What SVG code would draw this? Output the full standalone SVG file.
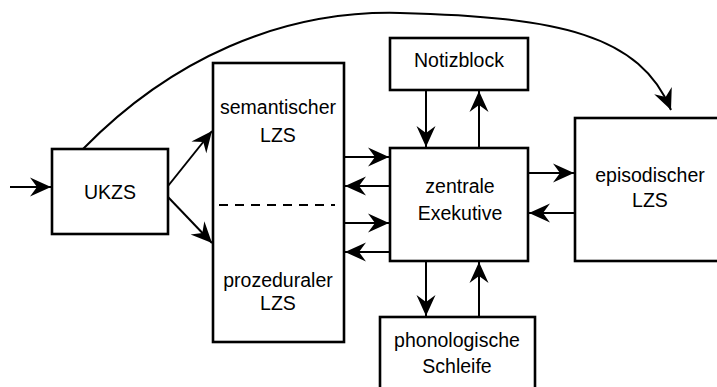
<svg xmlns="http://www.w3.org/2000/svg" width="717" height="387" viewBox="0 0 717 387">
  <style>
    .box { fill: #fff; stroke: #000; stroke-width: 2.6; }
    .line { fill: none; stroke: #000; stroke-width: 2; }
    .dash { fill: none; stroke: #000; stroke-width: 2; stroke-dasharray: 9 7; }
    text { font-family: "Liberation Sans", "DejaVu Sans", sans-serif; font-size: 19.5px; fill: #000; text-anchor: middle; }
  </style>
  <defs>
    <marker id="arrow" markerUnits="userSpaceOnUse" markerWidth="24" markerHeight="22" viewBox="-22 -11 24 22" refX="0" refY="0" orient="auto">
      <path d="M0,0 L-21,-9.5 L-14,0 L-21,9.5 Z" fill="#000"/>
    </marker>
  </defs>

  <rect width="717" height="387" fill="#fff"/>

  <g id="ukzs">
    <rect class="box" x="52" y="149" width="116" height="85"/>
    <text x="110" y="199">UKZS</text>
  </g>

  <g id="lzs">
    <rect class="box" x="213" y="63" width="131" height="279"/>
    <line class="dash" x1="219" y1="205" x2="335" y2="205"/>
    <text x="278" y="114">semantischer</text>
    <text x="278" y="142">LZS</text>
    <text x="278" y="287">prozeduraler</text>
    <text x="278" y="310">LZS</text>
  </g>

  <g id="notizblock">
    <rect class="box" x="390" y="38" width="138" height="52"/>
    <text x="459" y="67">Notizblock</text>
  </g>

  <g id="zentrale">
    <rect class="box" x="390" y="148" width="138" height="113"/>
    <text x="460" y="193">zentrale</text>
    <text x="460" y="220">Exekutive</text>
  </g>

  <g id="episodisch">
    <rect class="box" x="575" y="118" width="150" height="143"/>
    <text x="650" y="182">episodischer</text>
    <text x="650" y="207">LZS</text>
  </g>

  <g id="phonologisch">
    <rect class="box" x="380" y="317" width="155" height="80"/>
    <text x="457" y="347">phonologische</text>
    <text x="457" y="373">Schleife</text>
  </g>

  <g id="connectors">
    <!-- input to UKZS -->
    <line class="line" x1="10" y1="187" x2="51" y2="187" marker-end="url(#arrow)"/>
    <!-- UKZS to semantic / procedural LZS -->
    <line class="line" x1="168" y1="186" x2="212" y2="131" marker-end="url(#arrow)"/>
    <line class="line" x1="168" y1="197" x2="212" y2="243" marker-end="url(#arrow)"/>
    <!-- UKZS to episodic LZS, long curve over the top -->
    <path class="line" d="M83,149 C170,60 280,10 400,13 C560,17 640,35 671,110" marker-end="url(#arrow)"/>
    <!-- LZS and central executive -->
    <line class="line" x1="344" y1="157" x2="389" y2="157" marker-end="url(#arrow)"/>
    <line class="line" x1="389" y1="186" x2="345" y2="186" marker-end="url(#arrow)"/>
    <line class="line" x1="344" y1="223" x2="389" y2="223" marker-end="url(#arrow)"/>
    <line class="line" x1="389" y1="252" x2="345" y2="252" marker-end="url(#arrow)"/>
    <!-- Notizblock and central executive -->
    <line class="line" x1="426" y1="90" x2="426" y2="147" marker-end="url(#arrow)"/>
    <line class="line" x1="479" y1="148" x2="479" y2="91" marker-end="url(#arrow)"/>
    <!-- central executive and phonological loop -->
    <line class="line" x1="426" y1="261" x2="426" y2="316" marker-end="url(#arrow)"/>
    <line class="line" x1="479" y1="317" x2="479" y2="262" marker-end="url(#arrow)"/>
    <!-- central executive and episodic LZS -->
    <line class="line" x1="528" y1="173" x2="574" y2="173" marker-end="url(#arrow)"/>
    <line class="line" x1="575" y1="213" x2="529" y2="213" marker-end="url(#arrow)"/>
  </g>
</svg>
